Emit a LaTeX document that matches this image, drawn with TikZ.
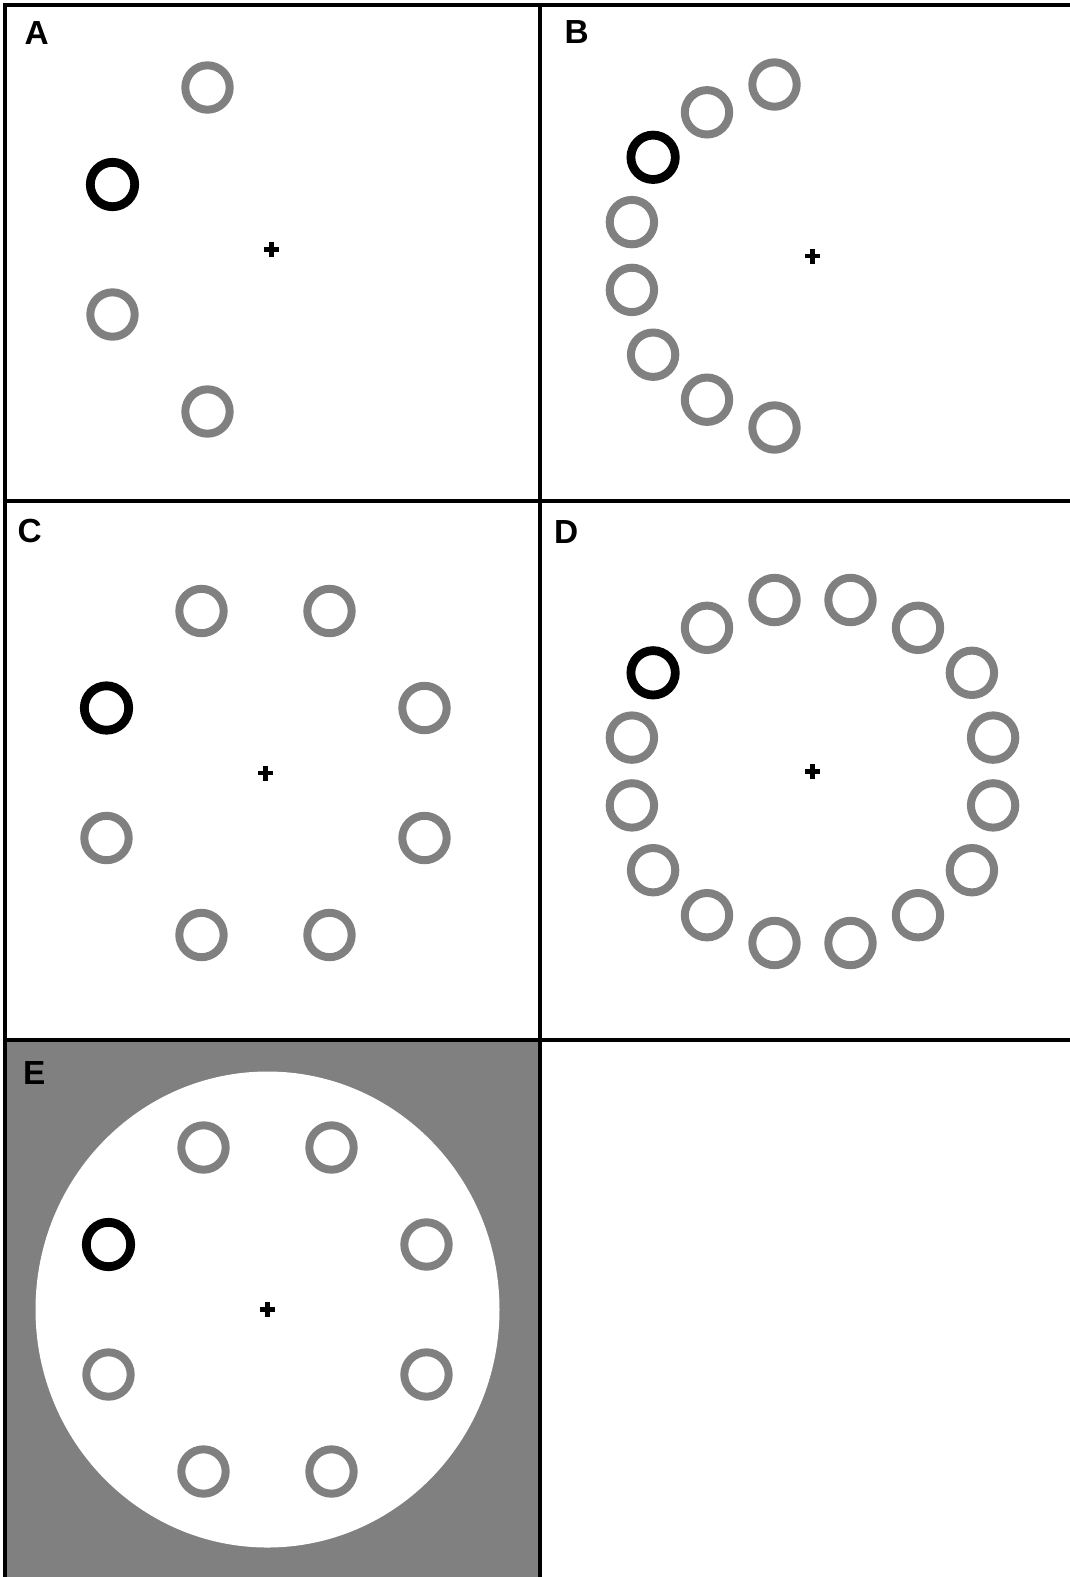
\documentclass[tikz,border=0pt]{standalone}
\usepackage{fontspec}
\setmainfont{Liberation Sans}
\usetikzlibrary{positioning}
\definecolor{RingGray}{RGB}{128,128,128}
\definecolor{SurroundGray}{RGB}{128,128,128}
\tikzset{
  ring/.style={draw=RingGray,line width=0.8mm},
  cuering/.style={draw=black,line width=0.88mm},
  frameline/.style={draw=black,line width=0.38mm},
  fixline/.style={draw=black,line width=0.42mm},
  panellabel/.style={anchor=base west,inner sep=0pt,
    font=\fontsize{9.5pt}{11pt}\selectfont\bfseries}
}

\begin{document}
\begin{tikzpicture}[x=0.1mm,y=-0.1mm]
  \useasboundingbox (0,0) rectangle (1070,1577);
  % grey surround with the white disk (panel E)
  \fill[SurroundGray] (5,1040) rectangle (540,1577);
  \fill[white] (267.5,1309.5) ellipse [x radius=232,y radius=238];
  % frame and dividers
  \draw[frameline] (5,1577) -- (5,5) -- (1070,5);
  \draw[frameline] (540,5) -- (540,1577);
  \draw[frameline] (5,500.7) -- (1070,500.7);
  \draw[frameline] (5,1040) -- (1070,1040);

  % panel labels
  \node[panellabel] (labA) at (24,44) {A};
  \node[panellabel] (labB) at (564,43.3) {B};
  \node[panellabel] (labC) at (17,542.5) {C};
  \node[panellabel] (labD) at (553.5,543.3) {D};
  \node[panellabel] (labE) at (22.5,1084) {E};

  % display centres
  \coordinate (cA) at (271.5,249.5);
  \coordinate (cB) at (812.5,256);
  \coordinate (cC) at (265.5,773);
  \coordinate (cD) at (812.5,771.5);
  \coordinate (cE) at (267.5,1309.5);

  % fixation crosses
  \foreach \c in {cA,cB,cC,cD,cE}
    \draw[fixline] (\c) ++(-7.5,0) -- ++(15,0) (\c) ++(0,-7.5) -- ++(0,15);

  % A: four rings, left half
  \foreach \dx/\dy in {-64/-162,-159/65,-64/162}
    \draw[ring] (cA) ++(\dx,\dy) circle[radius=22.2];
  \draw[cuering] (cA) ++(-159,-65) circle[radius=22.2];

  % C and E: eight rings
  \foreach \c in {cC,cE}{
    \foreach \dx/\dy in {-64/-162,64/-162,159/-65,-159/65,159/65,-64/162,64/162}
      \draw[ring] (\c) ++(\dx,\dy) circle[radius=22.2];
    \draw[cuering] (\c) ++(-159,-65) circle[radius=22.2];
  }

  % B: eight rings, left half
  \foreach \dx/\dy in {-38/-171.5,-105.5/-143.7,-180.6/-33.9,-180.6/33.9,
                       -159.4/98.7,-105.5/143.7,-38/171.5}
    \draw[ring] (cB) ++(\dx,\dy) circle[radius=22.2];
  \draw[cuering] (cB) ++(-159.4,-98.7) circle[radius=22.2];

  % D: sixteen rings
  \foreach \dx/\dy in {-38/-171.5,38/-171.5,-105.5/-143.7,105.5/-143.7,
                       159.4/-98.7,-180.6/-33.9,180.6/-33.9,-180.6/33.9,
                       180.6/33.9,-159.4/98.7,159.4/98.7,-105.5/143.7,
                       105.5/143.7,-38/171.5,38/171.5}
    \draw[ring] (cD) ++(\dx,\dy) circle[radius=22.2];
  \draw[cuering] (cD) ++(-159.4,-98.7) circle[radius=22.2];
\end{tikzpicture}
\end{document}
